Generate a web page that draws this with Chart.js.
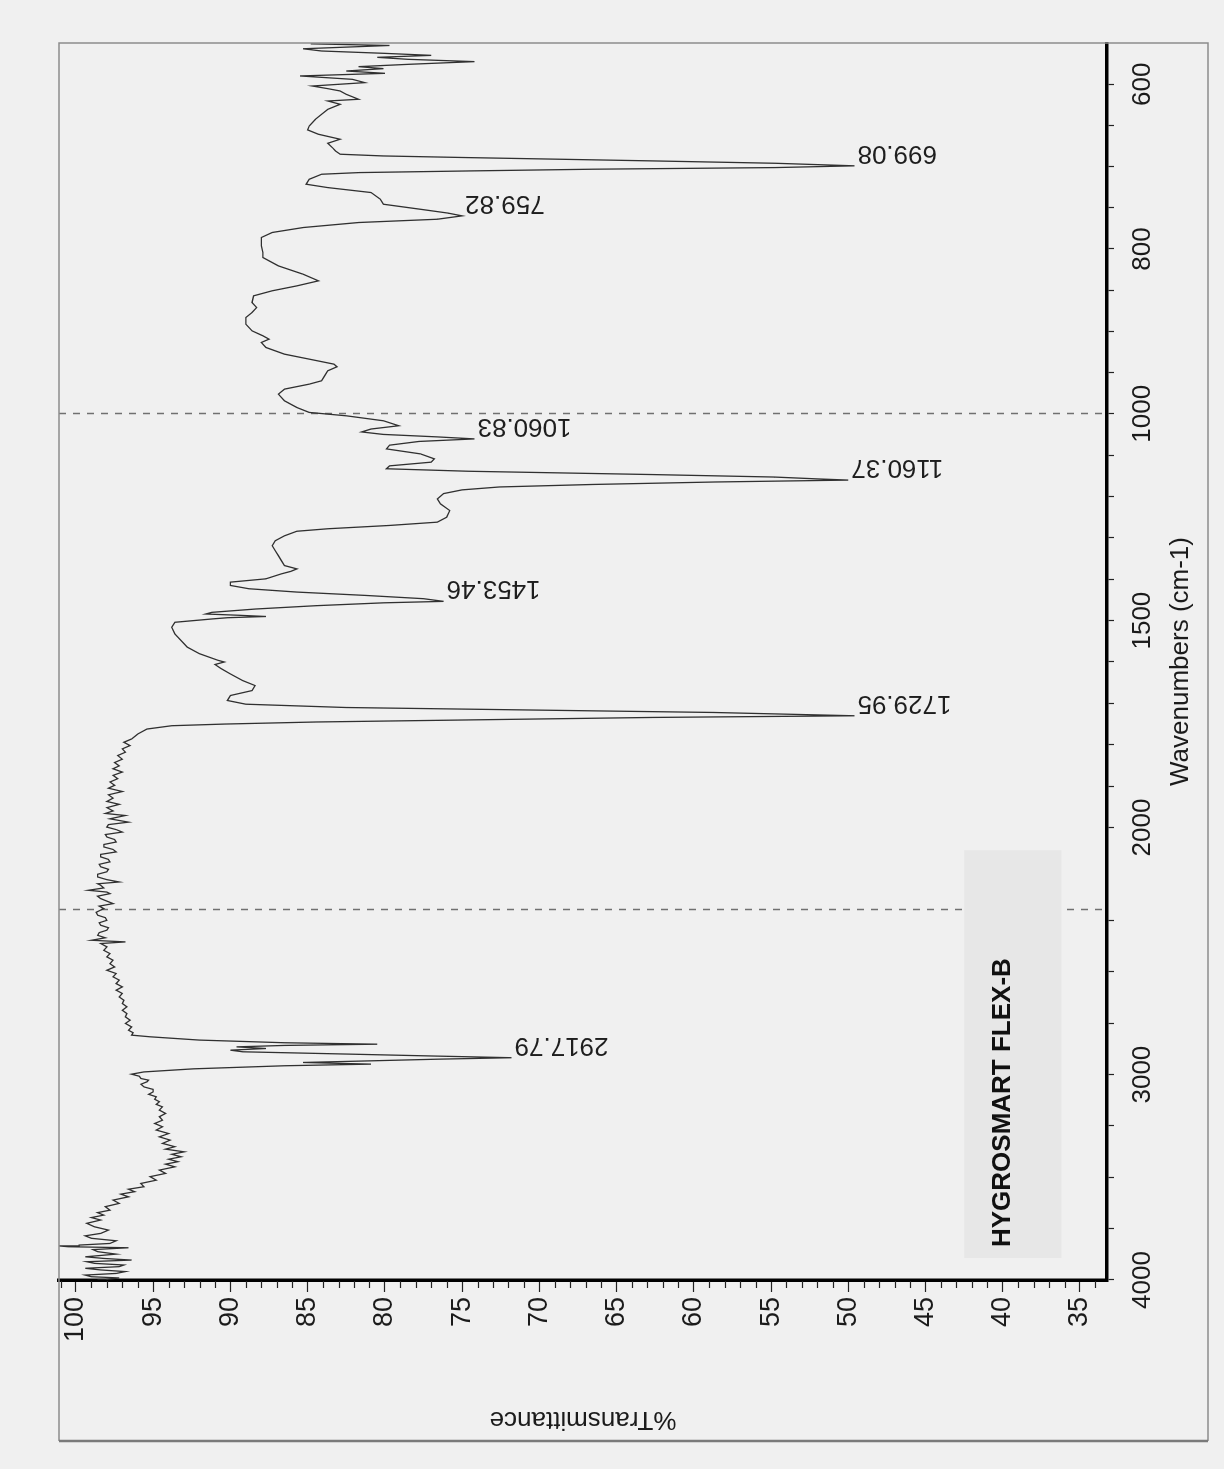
<!DOCTYPE html>
<html>
<head>
<meta charset="utf-8">
<title>HYGROSMART FLEX-B</title>
<script src="https://cdn.jsdelivr.net/npm/chart.js@4.4.1/dist/chart.umd.min.js"></script>
<style>
  html, body { margin: 0; padding: 0; background: #f0f0f0; overflow: hidden; }
  body { width: 1224px; height: 1469px; position: relative; }
  /* the scan is the printed spectrum turned a quarter turn to the left */
  #turn { position: absolute; left: 0; top: 0; width: 1469px; height: 1224px;
          transform-origin: 0 0; transform: translateY(1469px) rotate(-90deg); }
</style>
</head>
<body>
<div id="turn"><canvas id="spectrum" width="1469" height="1224"></canvas></div>
<script>
//Spectrum (wavenumber cm-1 / %T)
var wavenumbers = [
  551, 553, 557, 559.7, 562.5, 565, 567.4, 569.8, 572.6, 575.9,
  578.7, 581.1, 584, 586.8, 590, 594.1, 598.1, 602.2, 605.4, 608.2,
  612.3, 618.3, 620.4, 624.4, 630.5, 636.5, 642.6, 650.7, 655.5, 660.8,
  666.8, 671.7, 677, 681, 685, 687.1, 689.1, 693.1, 696, 699.08,
  701.2, 703.2, 705.3, 707.3, 709.3, 715.4, 721.4, 725.5, 731.5, 739.6,
  745.7, 751.8, 756.5, 759.82, 763.9, 767.9, 774, 780, 786.1, 796.2,
  804.3, 810.4, 820.5, 830.6, 838.7, 844.8, 850.8, 856.9, 865, 871.1,
  877.1, 883.2, 891.3, 899.4, 905.4, 909.5, 913.5, 919.6, 927.7, 933.7,
  939.8, 943, 947.9, 954, 960, 964.1, 970.1, 976.2, 984.3, 992.4,
  998.4, 1005, 1017, 1029, 1037, 1044, 1050, 1056, 1060.83, 1067,
  1076, 1085, 1097, 1109, 1117, 1126, 1133, 1139, 1147, 1153,
  1157.5, 1160.37, 1165, 1171, 1177, 1184, 1193, 1206, 1218, 1234,
  1250, 1262, 1270, 1278, 1284, 1295, 1307, 1319, 1331, 1343,
  1355, 1367, 1375, 1381, 1387, 1399, 1407, 1415, 1423, 1431,
  1439, 1447, 1453.46, 1457, 1464, 1472, 1480, 1484, 1487, 1490,
  1493, 1496, 1504, 1516, 1532, 1548, 1564, 1580, 1596, 1600,
  1606, 1616, 1629, 1645, 1657, 1669, 1681, 1693, 1702, 1710,
  1716, 1722, 1729.95, 1734, 1740, 1745, 1750, 1754, 1762, 1774,
  1786, 1794, 1802, 1810, 1818, 1826, 1835, 1843, 1851, 1858,
  1866, 1874, 1882, 1890, 1898, 1905, 1913, 1921, 1929, 1937,
  1944, 1952, 1960, 1966, 1971, 1979, 1987, 1993, 1999, 2005,
  2011, 2017, 2023, 2029, 2035, 2041, 2047, 2053, 2059, 2065,
  2071, 2077, 2083, 2089, 2095, 2101, 2107, 2113, 2119.5, 2126,
  2131.6, 2136, 2139.6, 2146, 2151.7, 2156, 2159.8, 2166, 2171.8, 2178,
  2183.9, 2190, 2196, 2210, 2224, 2236, 2249, 2261, 2273, 2285,
  2297, 2309, 2322, 2334, 2346, 2354, 2362, 2378, 2395, 2411,
  2427, 2443, 2460, 2476, 2492, 2508, 2524, 2540, 2557, 2573,
  2589, 2605, 2622, 2638, 2654, 2670, 2687, 2703, 2719, 2735,
  2751, 2768, 2784, 2796, 2808, 2816, 2832, 2845, 2852, 2858,
  2865, 2873, 2881, 2889, 2900, 2910, 2917.79, 2925, 2933, 2941,
  2949, 2957, 2972, 2987, 2998, 3008, 3019, 3027, 3035, 3047,
  3060, 3072, 3084, 3096, 3108, 3120, 3132, 3145, 3157, 3173,
  3189, 3205, 3222, 3238, 3254, 3270, 3287, 3303, 3319, 3335,
  3351, 3363, 3376, 3388, 3400, 3412, 3424, 3436, 3449, 3465,
  3481, 3497, 3514, 3530, 3546, 3558, 3570, 3582, 3595, 3611,
  3627, 3643, 3660, 3672, 3684, 3696, 3708, 3724, 3741, 3757,
  3773, 3785, 3797, 3809, 3822, 3830, 3834, 3838, 3843, 3852,
  3862, 3874, 3887, 3895, 3903, 3911, 3919, 3927, 3935, 3943,
  3951, 3959, 3968, 3976, 3984, 3990, 3997, 4000
];
var transmittance = [
  84.8, 79.7, 85.3, 84.1, 80.1, 77.0, 80.5, 78.5, 74.2, 78.5,
  81.7, 80.1, 82.5, 80.0, 85.5, 82.1, 81.3, 84.7, 83.7, 82.9,
  82.5, 81.7, 83.7, 82.9, 83.7, 84.1, 84.5, 84.9, 85.0, 84.3,
  82.9, 83.7, 83.4, 83.2, 82.9, 80.1, 74.6, 62.7, 54.7, 49.6,
  54.7, 66.6, 74.6, 81.7, 84.1, 84.9, 85.1, 83.7, 80.9, 80.3,
  80.1, 77.7, 75.9, 75.0, 76.6, 81.7, 85.3, 87.3, 88.0, 88.0,
  87.9, 87.9, 86.9, 85.3, 84.3, 85.7, 87.3, 88.5, 88.6, 88.3,
  88.6, 89.0, 89.0, 88.6, 87.9, 87.5, 88.0, 87.7, 86.5, 84.9,
  83.3, 83.1, 83.7, 83.9, 84.1, 84.9, 86.5, 86.9, 86.5, 85.7,
  84.9, 82.5, 80.1, 79.1, 80.9, 81.5, 80.1, 76.6, 74.2, 77.8,
  79.7, 79.9, 77.7, 76.8, 77.0, 79.7, 79.9, 74.6, 62.7, 54.8,
  52.0, 50.0, 58.7, 66.6, 72.6, 75.0, 76.2, 76.6, 76.4, 75.8,
  76.0, 76.6, 79.7, 83.7, 85.7, 86.5, 87.1, 87.3, 87.1, 86.9,
  86.7, 86.5, 85.7, 86.1, 86.7, 87.7, 90.0, 90.0, 88.8, 85.7,
  81.3, 77.5, 76.2, 80.1, 84.5, 88.4, 91.2, 91.6, 89.5, 87.7,
  90.2, 91.2, 93.6, 93.8, 93.6, 93.2, 92.8, 92.0, 90.8, 90.4,
  91.0, 90.6, 90.0, 89.2, 88.4, 88.6, 90.0, 90.2, 89.0, 82.5,
  70.6, 58.7, 49.6, 62.7, 74.6, 84.5, 90.4, 93.8, 95.4, 96.0,
  96.4, 96.9, 96.5, 97.0, 96.8, 97.3, 97.0, 97.5, 97.2, 97.6,
  97.0, 97.6, 97.3, 97.8, 97.5, 97.9, 97.0, 97.9, 97.6, 98.0,
  97.2, 98.0, 97.6, 98.1, 96.8, 97.8, 96.6, 97.9, 98.0, 97.4,
  97.0, 98.1, 98.0, 97.5, 97.4, 98.2, 98.2, 97.6, 97.4, 98.4,
  98.4, 97.9, 97.8, 98.5, 98.4, 97.9, 98.0, 98.6, 98.6, 98.0,
  97.2, 98.6, 98.4, 98.2, 99.2, 98.0, 97.8, 98.6, 98.4, 98.0,
  97.6, 98.5, 98.2, 98.7, 98.6, 98.1, 98.0, 98.5, 98.4, 97.9,
  98.0, 98.5, 98.6, 98.1, 99.0, 96.8, 98.4, 98.0, 98.2, 97.8,
  98.0, 97.6, 97.8, 97.5, 98.0, 97.4, 97.6, 97.2, 97.4, 97.0,
  97.4, 97.0, 97.2, 96.9, 97.0, 96.7, 97.0, 96.7, 96.8, 96.5,
  96.8, 96.4, 96.6, 96.3, 96.4, 95.2, 92.0, 86.5, 80.5, 86.5,
  89.6, 87.7, 90.0, 89.2, 82.5, 76.6, 71.8, 76.6, 80.9, 85.3,
  80.9, 86.5, 92.4, 95.6, 96.4, 95.9, 95.8, 95.3, 95.4, 95.8,
  95.6, 95.0, 95.0, 95.3, 94.8, 94.9, 94.6, 94.8, 94.4, 94.6,
  94.2, 94.6, 94.4, 94.9, 94.4, 94.8, 94.0, 94.6, 93.9, 94.4,
  93.6, 94.2, 93.0, 93.8, 93.2, 94.0, 93.4, 94.2, 93.6, 94.6,
  94.2, 95.2, 94.8, 95.8, 95.6, 96.6, 96.2, 97.1, 96.6, 97.6,
  97.2, 98.1, 97.8, 98.6, 98.2, 99.0, 98.4, 99.3, 98.8, 97.9,
  98.4, 99.4, 99.0, 97.4, 97.8, 99.8, 101.1, 100.5, 96.6, 98.9,
  98.6, 97.4, 99.4, 98.2, 96.4, 99.3, 98.8, 96.9, 97.2, 99.4,
  98.4, 96.8, 97.4, 99.4, 99.0, 97.2, 98.0, 98.6
];

//Peak picks printed on the spectrum
var peak_wavenumbers = [699.08, 759.82, 1060.83, 1160.37, 1453.46, 1729.95, 2917.79];

//Axis labels
var major_wn_ticks = [4000, 3000, 2000, 1500, 1000, 800, 600];
var split_lines = [2200, 1000];
var sample_name = "HYGROSMART FLEX-B";

//The wavenumber axis is drawn in three stretches (x1 above 2200, x2 to 1000, x4 below)
var axis_knots = [[4000, 0], [2200, 0.2989], [1000, 0.7003], [550, 1]];

function wn_to_frac(v) {
  for (var i = 0; i < axis_knots.length - 1; i++) {
    var a = axis_knots[i], b = axis_knots[i + 1];
    if (v >= b[0] || i === axis_knots.length - 2) {
      return a[1] + (a[0] - v) / (a[0] - b[0]) * (b[1] - a[1]);
    }
  }
}

function frac_to_wn(f) {
  for (var i = 0; i < axis_knots.length - 1; i++) {
    var a = axis_knots[i], b = axis_knots[i + 1];
    if (f <= b[1] || i === axis_knots.length - 2) {
      return a[0] - (f - a[1]) / (b[1] - a[1]) * (a[0] - b[0]);
    }
  }
}

class OmnicScale extends Chart.LinearScale {
  getPixelForValue(value) {
    return this.getPixelForDecimal(wn_to_frac(value));
  }
  getValueForPixel(pixel) {
    return frac_to_wn(this.getDecimalForPixel(pixel));
  }
}
OmnicScale.id = "omnic";
OmnicScale.defaults = Chart.LinearScale.defaults;
Chart.register(OmnicScale);

function wn_tick_list() {
  var steps = [[600, 1000, 50], [1000, 2000, 100], [2000, 4000, 250]];
  var list = [];
  for (var s = 0; s < steps.length; s++) {
    for (var v = steps[s][0]; v < steps[s][1]; v += steps[s][2]) list.push(v);
  }
  list.push(4000);
  return list.map(function (v) { return { value: v }; });
}

function t_tick_list() {
  var list = [];
  for (var v = 34; v <= 101; v++) list.push({ value: v });
  return list;
}

var points = wavenumbers.map(function (w, i) { return { x: w, y: transmittance[i] }; });

var pad = { left: 28, top: 59, right: 43, bottom: 16 };

var spectrum_marks = {
  id: "spectrum_marks",
  beforeDatasetsDraw: function (chart) {
    var c = chart.ctx, area = chart.chartArea, xs = chart.scales.x;
    c.save();
    c.strokeStyle = "#707070";
    c.lineWidth = 1.5;
    c.setLineDash([7, 7]);
    split_lines.forEach(function (w) {
      var px = Math.round(xs.getPixelForValue(w)) + 0.5;
      c.beginPath();
      c.moveTo(px, area.top);
      c.lineTo(px, area.bottom);
      c.stroke();
    });
    c.restore();
  },
  afterDatasetsDraw: function (chart) {
    var c = chart.ctx, xs = chart.scales.x, ys = chart.scales.y;
    c.save();
    //peak labels, vertical under each tip
    c.fillStyle = "#1e1e1e";
    c.font = "26px 'Liberation Sans', Arial, sans-serif";
    c.textAlign = "right";
    c.textBaseline = "middle";
    peak_wavenumbers.forEach(function (w) {
      var idx = wavenumbers.indexOf(w);
      var px = xs.getPixelForValue(w);
      var py = ys.getPixelForValue(transmittance[idx]);
      c.save();
      c.translate(px + 13, py + 3);
      c.rotate(-Math.PI / 2);
      c.fillText(w.toFixed(2), 0, 0);
      c.restore();
    });
    //sample name box
    var bx1 = xs.getPixelForValue(3893), bx2 = xs.getPixelForValue(2055);
    var by1 = ys.getPixelForValue(42.5), by2 = ys.getPixelForValue(36.2);
    c.fillStyle = "#e7e7e7";
    c.fillRect(bx1, by1, bx2 - bx1, by2 - by1);
    c.fillStyle = "#111";
    c.font = "bold 26px 'Liberation Sans', Arial, sans-serif";
    c.textAlign = "left";
    c.textBaseline = "middle";
    c.fillText(sample_name, bx1 + 11, ys.getPixelForValue(40.0));
    c.restore();
  },
  afterDraw: function (chart) {
    var c = chart.ctx, area = chart.chartArea, ys = chart.scales.y;
    var left = pad.left, bottom = chart.height - pad.bottom;
    c.save();
    //outer frame
    c.strokeStyle = "#8c8c8c";
    c.lineWidth = 1.5;
    c.beginPath();
    c.moveTo(left, area.top);
    c.lineTo(area.right, area.top);
    c.lineTo(area.right, bottom);
    c.lineTo(left, bottom);
    c.stroke();
    c.strokeStyle = "#7a7a7a";
    c.lineWidth = 2.5;
    c.beginPath();
    c.moveTo(left, area.top);
    c.lineTo(left, bottom);
    c.stroke();
    //short minor ticks on the %T axis
    c.strokeStyle = "#222";
    c.lineWidth = 1.2;
    ys.ticks.forEach(function (t) {
      if (t.value % 5 === 0) return;
      var py = Math.round(ys.getPixelForValue(t.value)) + 0.5;
      c.beginPath();
      c.moveTo(area.left - 1, py);
      c.lineTo(area.left - 8, py);
      c.stroke();
    });
    c.restore();
  }
};

Chart.defaults.font.family = "'Liberation Sans', Arial, sans-serif";
Chart.defaults.color = "#1b1b1b";

var ctx = document.getElementById("spectrum").getContext("2d");
var chart = new Chart(ctx, {
  type: "line",
  data: {
    datasets: [{
      label: sample_name,
      data: points,
      borderColor: "#303030",
      borderWidth: 1.3,
      pointRadius: 0,
      tension: 0,
      fill: false
    }]
  },
  options: {
    responsive: false,
    animation: false,
    events: [],
    layout: { padding: pad },
    plugins: {
      legend: { display: false },
      tooltip: { enabled: false }
    },
    scales: {
      x: {
        type: "omnic",
        position: "bottom",
        min: 550,
        max: 4000,
        afterBuildTicks: function (scale) { scale.ticks = wn_tick_list(); },
        afterFit: function (scale) { scale.height = 101; },
        ticks: {
          autoSkip: false,
          maxRotation: 0,
          minRotation: 0,
          padding: 13,
          font: { size: 26 },
          callback: function (v) { return major_wn_ticks.indexOf(v) >= 0 ? String(v) : ""; }
        },
        grid: { drawOnChartArea: false, tickLength: 7, tickColor: "#222", tickWidth: 1.2 },
        border: { color: "#000", width: 3.5 },
        title: { display: true, text: "Wavenumbers (cm-1)", font: { size: 26 }, padding: { top: 4, bottom: 12 } }
      },
      y: {
        type: "linear",
        position: "left",
        min: 33.25,
        max: 101.1,
        afterBuildTicks: function (scale) { scale.ticks = t_tick_list(); },
        afterFit: function (scale) { scale.width = 161; },
        ticks: {
          autoSkip: false,
          padding: 5,
          font: { size: 27 },
          callback: function (v) { return (v % 5 === 0 && v >= 35 && v <= 100) ? String(v) : ""; }
        },
        grid: {
          drawOnChartArea: false,
          tickLength: 12,
          tickWidth: 1.2,
          tickColor: function (c) { return c.tick && c.tick.value % 5 === 0 ? "#222" : "rgba(0,0,0,0)"; }
        },
        border: { color: "#000", width: 3.5 },
        title: { display: true, text: "%Transmittance", font: { size: 26 }, padding: { top: 6, bottom: 2 } }
      }
    }
  },
  plugins: [spectrum_marks]
});
</script>
</body>
</html>
